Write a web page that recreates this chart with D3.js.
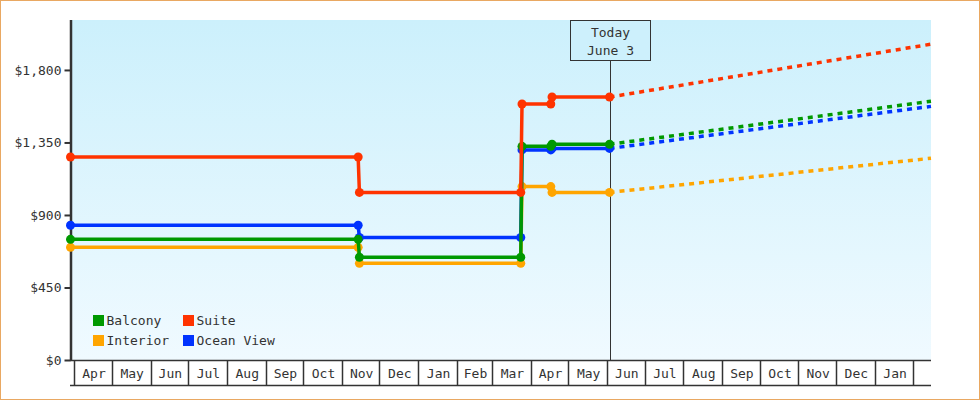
<!DOCTYPE html>
<html>
<head>
<meta charset="utf-8">
<script src="https://cdn.jsdelivr.net/npm/d3@7"></script>
<style>
  html, body { margin: 0; padding: 0; background: #fff; }
  svg { display: block; }
  text { font-family: "DejaVu Sans Mono", monospace; font-size: 13px; fill: #333; }
</style>
</head>
<body>
<svg id="chart" width="980" height="400"></svg>
<script>
// ---- Data ----
const seriesNames = ["Balcony", "Suite", "Interior", "Ocean View"];
const seriesColors = ["#009900", "#ff3300", "#ffa500", "#0033ff"];
const historyDates = ["2021-03-29", "2021-11-14", "2021-11-15", "2022-03-24", "2022-03-25", "2022-04-17", "2022-04-18", "2022-06-03"];
const balconyHistory   = [749, 749, 638, 638, 1326, 1326, 1339, 1339];
const suiteHistory     = [1260, 1260, 1040, 1040, 1589, 1589, 1632, 1632];
const interiorHistory  = [699, 699, 600, 600, 1076, 1076, 1040, 1040];
const oceanViewHistory = [836, 836, 760, 760, 1304, 1304, 1313, 1313];
const forecastDates = ["2022-06-03", "2023-02-15"];
const balconyForecast   = [1339, 1606];
const suiteForecast     = [1632, 1960];
const interiorForecast  = [1040, 1252];
const oceanViewForecast = [1313, 1574];
const yTickValues = [0, 450, 900, 1350, 1800];
const todayDate = "2022-06-03";
const todayLabel = ["Today", "June 3"];
const xDomain = ["2021-03-29", "2023-02-15"];
const yMax = 2110;

(function () {
// ---- Setup ----
const parse = d3.utcParse("%Y-%m-%d");
const svg = d3.select("#chart");
const W = 980, H = 400;
const pLeft = 70.5, pRight = 931, pTop = 20, pBottom = 360;

const x = d3.scaleUtc().domain(xDomain.map(parse)).range([pLeft, pRight]);
const y = d3.scaleLinear().domain([0, yMax]).range([pBottom, pTop]);

// border
svg.append("rect").attr("x", 0.5).attr("y", 0.5).attr("width", W - 1).attr("height", H - 1)
  .attr("fill", "#fff").attr("stroke", "#e9a862").attr("stroke-width", 1);

// background gradient
const defs = svg.append("defs");
const grad = defs.append("linearGradient").attr("id", "bg").attr("x1", 0).attr("y1", 0).attr("x2", 0).attr("y2", 1);
grad.append("stop").attr("offset", "0%").attr("stop-color", "#ccf0fc");
grad.append("stop").attr("offset", "100%").attr("stop-color", "#f0faff");
svg.append("rect").attr("x", pLeft + 1).attr("y", pTop).attr("width", pRight - pLeft - 1).attr("height", pBottom - pTop)
  .attr("fill", "url(#bg)");

// y axis
const yAxis = d3.axisLeft(y).tickValues(yTickValues)
  .tickFormat(d => "$" + d3.format(",")(d)).tickSize(6).tickSizeOuter(0).tickPadding(3);
const yg = svg.append("g").attr("transform", `translate(${pLeft},0)`).call(yAxis);
yg.select(".domain").remove();
yg.selectAll(".tick line").attr("stroke", "#333").attr("stroke-width", 2).attr("x1", -6).attr("x2", 0);
yg.selectAll(".tick text").attr("font-family", "DejaVu Sans Mono").attr("font-size", 13).attr("fill", "#333").attr("x", -9);
svg.append("line").attr("x1", 71).attr("x2", 71).attr("y1", pTop).attr("y2", pBottom + 1)
  .attr("stroke", "#333").attr("stroke-width", 2.5);

// x axis month boxes
svg.append("line").attr("x1", 70).attr("x2", pRight).attr("y1", pBottom + 0.5).attr("y2", pBottom + 0.5)
  .attr("stroke", "#333").attr("stroke-width", 1.5);
svg.append("line").attr("x1", 70).attr("x2", pRight).attr("y1", 385.5).attr("y2", 385.5)
  .attr("stroke", "#333").attr("stroke-width", 1.5);
const dom = x.domain();
const months = d3.utcMonth.range(d3.utcMonth.ceil(dom[0]), dom[1]);
const xg = svg.append("g");
months.forEach(m => {
  const px = Math.round(x(m)) + 0.5;
  xg.append("line").attr("x1", px).attr("x2", px).attr("y1", pBottom).attr("y2", 385.5)
    .attr("stroke", "#333").attr("stroke-width", 1.5);
  const next = d3.utcMonth.offset(m, 1);
  if (next <= dom[1]) {
    xg.append("text").attr("x", (x(m) + x(next)) / 2 + 1).attr("y", 378)
      .attr("text-anchor", "middle").text(d3.utcFormat("%b")(m));
  }
});

// today marker
const tx = Math.round(x(parse(todayDate))) + 0.5;
svg.append("line").attr("x1", tx).attr("x2", tx).attr("y1", 60.5).attr("y2", pBottom)
  .attr("stroke", "#333").attr("stroke-width", 1);
svg.append("rect").attr("x", tx - 40).attr("y", 20.5).attr("width", 80).attr("height", 40)
  .attr("fill", "#cdf0fc").attr("stroke", "#333").attr("stroke-width", 1);
todayLabel.forEach((t, i) => {
  svg.append("text").attr("x", tx).attr("y", 37 + i * 18).attr("text-anchor", "middle").text(t);
});

// series
const histories = [balconyHistory, suiteHistory, interiorHistory, oceanViewHistory];
const forecasts = [balconyForecast, suiteForecast, interiorForecast, oceanViewForecast];
const line = d3.line().x(d => x(d.date)).y(d => y(d.value));
const drawOrder = [2, 3, 0, 1]; // Interior, Ocean View, Balcony, Suite

drawOrder.forEach(i => {
  const hist = historyDates.map((d, k) => ({ date: parse(d), value: histories[i][k] }));
  const fc = forecastDates.map((d, k) => ({ date: parse(d), value: forecasts[i][k] }));
  const g = svg.append("g");
  g.append("path").datum(fc).attr("d", line).attr("fill", "none")
    .attr("stroke", seriesColors[i]).attr("stroke-width", 3.5).attr("stroke-dasharray", "5,5");
  g.append("path").datum(hist).attr("d", line).attr("fill", "none")
    .attr("stroke", seriesColors[i]).attr("stroke-width", 3.5);
  g.selectAll("circle").data(hist).join("circle")
    .attr("cx", d => x(d.date)).attr("cy", d => y(d.value)).attr("r", 4.5)
    .attr("fill", seriesColors[i]);
});

// legend
const lg = svg.append("g");
seriesNames.forEach((name, i) => {
  const col = i % 2, row = Math.floor(i / 2);
  const lx = 93 + col * 90, ly = 315 + row * 20;
  lg.append("rect").attr("x", lx).attr("y", ly).attr("width", 11).attr("height", 11).attr("fill", seriesColors[i]);
  lg.append("text").attr("x", lx + 13.5).attr("y", ly + 10).text(name);
});
})();
</script>
</body>
</html>
